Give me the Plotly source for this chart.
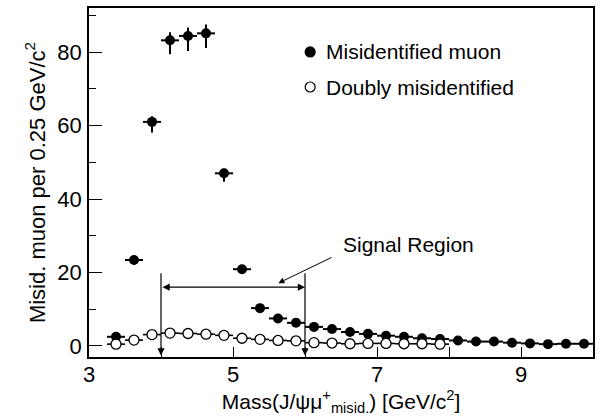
import plotly.graph_objects as go

# ---- data ----
mass_bins = [3.375, 3.625, 3.875, 4.125, 4.375, 4.625, 4.875, 5.125, 5.375,
             5.625, 5.875, 6.125, 6.375, 6.625, 6.875, 7.125, 7.375, 7.625,
             7.875, 8.125, 8.375, 8.625, 8.875, 9.125, 9.375, 9.625, 9.875]
misid_muon = [2.5, 23.4, 61.0, 83.2, 84.4, 85.1, 47.0, 20.9, 10.3,
              7.5, 6.3, 5.2, 4.6, 3.8, 3.3, 2.8, 2.5, 2.1,
              1.9, 1.5, 1.2, 1.2, 0.9, 0.7, 0.5, 0.6, 0.6]
misid_err_up = [0.8, 1.0, 1.5, 2.2, 2.3, 2.4, 1.3, 1.0, 0.8,
                0.7, 0.7, 0.6, 0.6, 0.6, 0.6, 0.5, 0.5, 0.5,
                0.5, 0.4, 0.4, 0.4, 0.4, 0.3, 0.3, 0.3, 0.3]
misid_err_dn = [0.8, 1.2, 2.9, 3.8, 4.1, 4.0, 2.3, 1.3, 0.9,
                0.8, 0.7, 0.6, 0.6, 0.6, 0.6, 0.5, 0.5, 0.5,
                0.5, 0.4, 0.4, 0.4, 0.4, 0.3, 0.3, 0.3, 0.3]

doubly_bins = mass_bins[:19]
doubly_misid = [0.5, 1.6, 3.1, 3.5, 3.4, 3.2, 2.9, 2.1, 1.8, 1.5,
                1.4, 0.9, 0.8, 0.6, 0.7, 0.7, 0.6, 0.6, 0.5]
doubly_err = [0.4, 0.6, 0.8, 0.8, 0.8, 0.8, 0.8, 0.7, 0.6, 0.6,
              0.6, 0.5, 0.5, 0.4, 0.4, 0.4, 0.4, 0.4, 0.4]

BIN_HALF = 0.125
SIGNAL_LO, SIGNAL_HI = 4.0, 6.0
SIGNAL_ARROW_Y = 16.0
SIGNAL_LINE_TOP = 20.2

legend_labels = ["Misidentified muon", "Doubly misidentified"]
x_title = "Mass(J/ψμ<sup>+</sup><sub>misid.</sub>) [GeV/c<sup>2</sup>]"
y_title = "Misid. muon per 0.25 GeV/c<sup>2</sup>"

FONT = "Liberation Sans, Arial, Helvetica, sans-serif"

fig = go.Figure()

fig.add_trace(go.Scatter(
    x=mass_bins, y=misid_muon, mode="markers", name=legend_labels[0],
    marker=dict(symbol="circle", size=10, color="black"),
    error_x=dict(type="constant", value=BIN_HALF, width=0, thickness=2, color="black"),
    error_y=dict(type="data", array=misid_err_up, arrayminus=misid_err_dn,
                 symmetric=False, width=0, thickness=2, color="black"),
    showlegend=False,
))
fig.add_trace(go.Scatter(
    x=doubly_bins, y=doubly_misid, mode="markers", name=legend_labels[1],
    marker=dict(symbol="circle", size=10, color="white",
                line=dict(color="black", width=1.3)),
    error_x=dict(type="constant", value=BIN_HALF, width=0, thickness=1.6, color="black"),
    error_y=dict(type="data", array=doubly_err, width=0, thickness=1.6, color="black"),
    showlegend=False,
))

# ---- manual legend ----
leg_x = 0.4388
for i, (lab, yy) in enumerate(zip(legend_labels, [0.874, 0.7736])):
    fig.add_shape(type="circle", xref="paper", yref="paper",
                  xsizemode="pixel", ysizemode="pixel",
                  xanchor=leg_x, yanchor=yy,
                  x0=-5, x1=5, y0=-5, y1=5,
                  fillcolor="black" if i == 0 else "white",
                  line=dict(color="black", width=1.2))
    fig.add_annotation(x=leg_x + 0.028, y=yy, xref="paper", yref="paper",
                       text=lab, showarrow=False, xanchor="left", yanchor="middle",
                       font=dict(size=21, color="black", family=FONT))

# ---- signal region markings ----
arrow_col = "black"
for xv in (SIGNAL_LO, SIGNAL_HI):
    fig.add_annotation(x=xv, y=-2.6, ax=xv, ay=SIGNAL_LINE_TOP,
                       xref="x", yref="y", axref="x", ayref="y",
                       text="", showarrow=True, arrowhead=2, arrowsize=1.2,
                       arrowwidth=1.2, arrowcolor=arrow_col)
fig.add_annotation(x=SIGNAL_HI, y=SIGNAL_ARROW_Y, ax=SIGNAL_LO, ay=SIGNAL_ARROW_Y,
                   xref="x", yref="y", axref="x", ayref="y",
                   text="", showarrow=True, arrowhead=2, startarrowhead=2,
                   arrowside="end+start", arrowsize=1.2, startarrowsize=1.2,
                   arrowwidth=1.2, arrowcolor=arrow_col)
fig.add_annotation(x=5.63, y=17.1, ax=6.39, ay=24.3,
                   xref="x", yref="y", axref="x", ayref="y",
                   text="", showarrow=True, arrowhead=2, arrowsize=1.2,
                   arrowwidth=1.0, arrowcolor=arrow_col)
fig.add_annotation(x=6.5, y=27.6, xref="x", yref="y", text="Signal Region",
                   showarrow=False, xanchor="left", yanchor="middle",
                   font=dict(size=21, color="black", family=FONT))

fig.update_layout(
    width=600, height=417,
    margin=dict(l=89, r=7, t=8, b=60, autoexpand=False),
    paper_bgcolor="white", plot_bgcolor="white",
    font=dict(family=FONT, size=21, color="black"),
)
fig.update_xaxes(
    range=[3, 10], tick0=3, dtick=2, ticks="inside", ticklen=10, tickwidth=1.2,
    tickcolor="black", showgrid=False, zeroline=False, automargin=False,
    showline=True, linecolor="black", linewidth=1.5, mirror=True,
    minor=dict(dtick=1, tick0=3, ticks="inside", ticklen=10, tickwidth=1.2,
               tickcolor="black", showgrid=False),
    tickfont=dict(size=22), ticklabelstandoff=-3,
    title=dict(text=x_title, font=dict(size=21), standoff=2),
)
fig.update_yaxes(
    range=[-3, 92], tick0=0, dtick=20, ticks="inside", ticklen=13, tickwidth=1.2,
    tickcolor="black", showgrid=False, zeroline=False, automargin=False,
    showline=True, linecolor="black", linewidth=1.5, mirror=True,
    minor=dict(dtick=10, tick0=0, ticks="inside", ticklen=7, tickwidth=1.2,
               tickcolor="black", showgrid=False),
    tickfont=dict(size=22), ticklabelstandoff=1,
    title=dict(text=y_title, font=dict(size=22), standoff=6),
)

fig.write_html("out.html", config={"displayModeBar": False},
               post_script="document.body.style.margin='0';document.body.style.padding='0';")
